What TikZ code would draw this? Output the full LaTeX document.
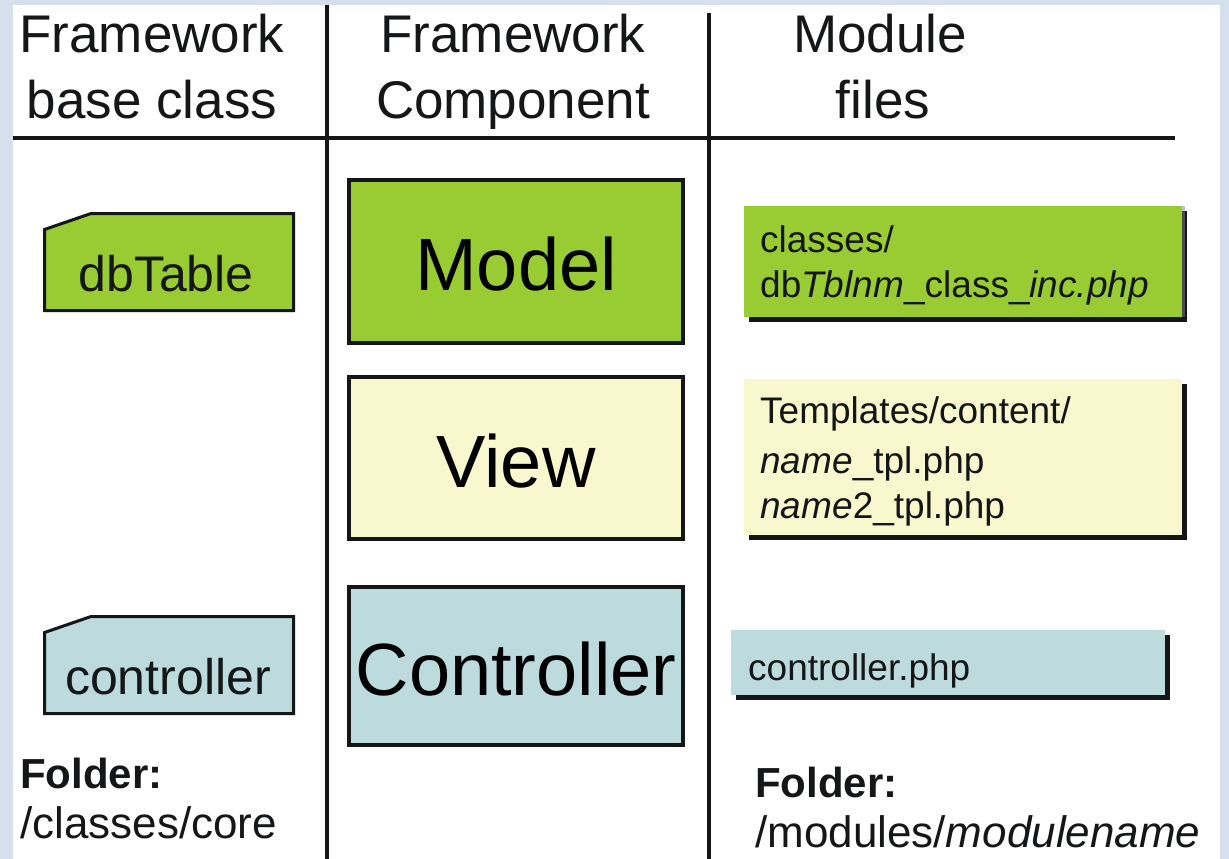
\documentclass[tikz,border=0pt]{standalone}
\usepackage{fontspec}
\setmainfont{Liberation Sans}
\usetikzlibrary{shadows}
\definecolor{pagebg}{HTML}{D6E0EC}
\definecolor{inkblack}{HTML}{141617}
\definecolor{modelgreen}{HTML}{99CC33}
\definecolor{viewyellow}{HTML}{F8F7CE}
\definecolor{ctrlblue}{HTML}{BDDADD}
\tikzset{
    rule/.style={draw=inkblack,line width=4pt},
    mvcbox/.style={draw=inkblack,line width=4pt,minimum width=334pt,inner sep=0pt,text height=58pt,text depth=0pt,font=\fontsize{74}{80}\selectfont},
    filebox/.style={anchor=north west,inner sep=0pt,drop shadow={shadow xshift=5pt,shadow yshift=-5pt,fill=inkblack,opacity=1}},
    txt/.style={inner sep=0pt,text=inkblack}
}
\begin{document}
\begin{tikzpicture}[x=1pt,y=-1pt]
        \useasboundingbox (0,0) rectangle (1229,859);
        \fill[pagebg] (0,0) rectangle (1229,859);
        \fill[white] (13,5) rectangle (1220,859);
        % column rules
        \path[rule] (13,138) -- (1175,138);
        \path[rule] (327,5) -- (327,859);
        \path[rule] (709,13) -- (709,859);
        % headings
        \def \Heads{152/53/Framework, 152/118/base class, 513/53/Framework, 513/118/Component, 880/53/Module, 883/118/files}
        \foreach \x / \y / \t [count=\i] in \Heads{
            \node[txt,anchor=base,font=\fontsize{53}{60}\selectfont] (head\i) at (\x, \y) {\t};
        }
        % base classes
        \def \Tabs{dbtab/212/modelgreen/166/dbTable, ctrltab/615/ctrlblue/168/controller}
        \foreach \id / \y / \c / \tx / \t in \Tabs{
            \path[draw=inkblack,line width=3pt,fill=\c] (44.5,\y+17.5) -- (91,\y+1.5) -- (293.5,\y+1.5) -- (293.5,\y+98.5) -- (44.5,\y+98.5) -- cycle;
            \node[txt,anchor=base,font=\fontsize{50}{56}\selectfont] (\id) at (\tx, \y+79) {\t};
        }
        % framework components
        \node[mvcbox,fill=modelgreen,minimum height=163pt] (model) at (516,261.5) {Model};
        \node[mvcbox,fill=viewyellow,minimum height=162pt] (view) at (516,458) {View};
        \node[mvcbox,fill=ctrlblue,minimum height=158pt] (controller) at (516,666) {Controller};
        % module files
        \node[filebox,fill=modelgreen,minimum width=438pt,minimum height=111pt,drop shadow={shadow yshift=0pt}] (mfile) at (744,206) {};
        \node[filebox,fill=viewyellow,minimum width=438pt,minimum height=156pt] (vfile) at (744,379) {};
        \node[filebox,fill=ctrlblue,minimum width=434pt,minimum height=65pt] (cfile) at (731,630) {};
        \def \Files{760/252/{classes/}, 760/297/{db\textit{Tblnm}\_class\_\textit{inc.php}}, 760/423/{Templates/content/}, 760/473/{\textit{name}\_tpl.php}, 760/518/{\textit{name}2\_tpl.php}, 748/680/{controller.php}}
        \foreach \x / \y / \t [count=\i] in \Files{
            \node[txt,anchor=base west,font=\fontsize{37}{44}\selectfont] (file\i) at (\x, \y) {\t};
        }
        % folders
        \node[txt,anchor=base west,font=\fontsize{42}{48}\selectfont\bfseries] (basefolder) at (20,788) {Folder:};
        \node[txt,anchor=base west,font=\fontsize{44}{50}\selectfont] (basepath) at (20,838) {/classes/core};
        \node[txt,anchor=base west,font=\fontsize{42}{48}\selectfont\bfseries] (modfolder) at (755,797) {Folder:};
        \node[txt,anchor=base west,font=\fontsize{44}{50}\selectfont] (modpath) at (755,847) {/modules/\textit{modulename}};
    \end{tikzpicture}
\end{document}
